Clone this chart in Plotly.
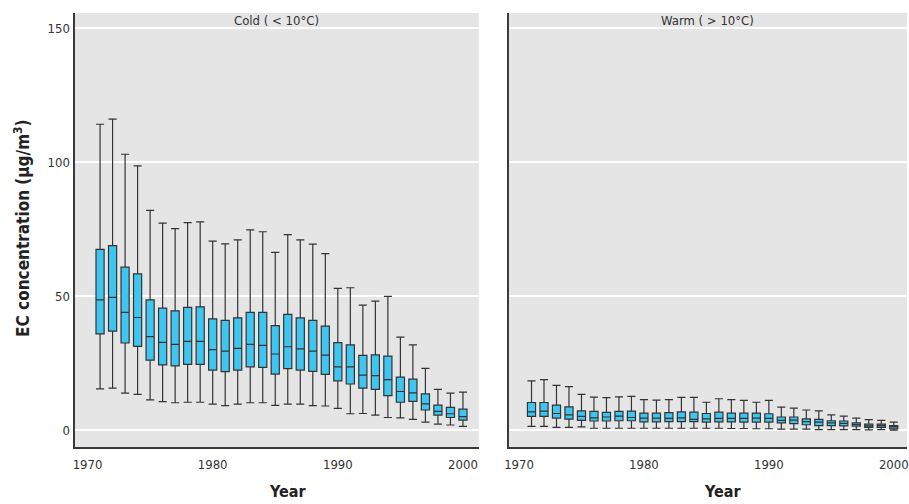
import plotly.graph_objects as go

years = list(range(1971, 2001))

cold_upper = [114.1, 116.0, 102.9, 98.6, 82.0, 77.2, 75.2, 77.4, 77.7, 70.5,
              69.5, 71.0, 74.7, 74.0, 66.3, 72.9, 71.0, 69.4, 65.8, 52.9,
              53.1, 46.6, 48.1, 49.9, 34.7, 31.8, 23.0, 15.2, 13.8, 14.2]
cold_q3 = [67.4, 68.8, 60.8, 58.3, 48.6, 45.5, 44.5, 45.8, 46.0, 41.5,
           40.9, 41.9, 43.9, 43.9, 39.0, 43.2, 41.9, 40.9, 38.8, 32.6,
           31.8, 27.9, 28.1, 27.6, 19.8, 19.0, 13.5, 9.3, 8.5, 7.8]
cold_median = [48.6, 49.5, 43.9, 42.0, 34.9, 32.7, 32.0, 33.1, 33.1, 30.0,
               29.5, 30.5, 32.0, 31.6, 28.4, 31.1, 30.3, 29.5, 28.0, 23.6,
               23.6, 20.5, 20.3, 18.8, 14.4, 13.9, 9.8, 7.0, 6.1, 5.0]
cold_q1 = [35.9, 36.9, 32.5, 31.2, 26.1, 24.3, 24.0, 24.5, 24.5, 22.4,
           21.8, 22.4, 23.6, 23.4, 20.9, 22.9, 22.4, 21.9, 20.8, 18.4,
           17.2, 15.7, 15.2, 12.9, 10.4, 10.7, 7.5, 5.6, 4.7, 3.7]
cold_lower = [15.4, 15.7, 13.8, 13.3, 11.3, 10.6, 10.2, 10.4, 10.4, 9.7,
              9.1, 9.7, 10.2, 10.2, 9.2, 9.7, 9.7, 9.1, 9.0, 8.1,
              6.1, 6.2, 5.6, 4.7, 4.6, 4.0, 3.0, 2.2, 1.9, 1.4]

warm_upper = [18.4, 18.8, 16.7, 16.2, 13.3, 12.3, 12.1, 12.4, 12.6, 11.4,
              11.2, 11.4, 12.2, 12.2, 10.4, 11.7, 11.4, 11.1, 10.4, 11.1,
              8.6, 8.2, 7.5, 7.2, 5.7, 5.2, 4.5, 3.9, 3.6, 3.0]
warm_q3 = [10.3, 10.3, 9.3, 8.7, 7.2, 7.0, 6.6, 7.0, 7.1, 6.3,
           6.3, 6.5, 6.8, 6.7, 6.2, 6.7, 6.3, 6.3, 6.3, 6.1,
           4.9, 4.9, 4.2, 4.0, 3.5, 3.4, 2.7, 2.2, 2.2, 1.7]
warm_median = [6.8, 7.1, 6.2, 5.7, 5.1, 4.6, 4.9, 5.2, 4.7, 4.5,
               4.5, 4.4, 4.6, 4.0, 4.2, 4.4, 4.4, 4.4, 4.5, 4.4,
               3.6, 3.7, 3.2, 3.0, 2.7, 2.5, 2.1, 1.6, 1.7, 1.2]
warm_q1 = [5.1, 5.1, 4.5, 4.1, 3.6, 3.4, 3.4, 3.5, 3.5, 3.1,
           3.1, 3.2, 3.2, 3.2, 3.0, 3.1, 3.1, 3.0, 3.0, 3.0,
           2.7, 2.4, 2.0, 1.7, 1.7, 1.6, 1.5, 1.0, 1.0, 0.5]
warm_lower = [1.4, 1.4, 1.0, 1.0, 1.2, 0.7, 0.7, 0.7, 0.7, 0.7,
              0.7, 0.7, 0.7, 0.7, 0.7, 0.7, 0.6, 0.6, 0.5, 0.5,
              0.4, 0.4, 0.4, 0.2, 0.2, 0.2, 0.2, 0.1, 0.2, 0.0]

panel_titles = ["Cold ( < 10°C)", "Warm ( > 10°C)"]
x_tick_vals = [1970, 1980, 1990, 2000]
y_tick_vals = [0, 50, 100, 150]

FONT = "DejaVu Sans Condensed, Liberation Sans Narrow, Roboto Condensed, Arial Narrow, sans-serif"
FILL = "#3FC6F0"
LINE = "#333333"
AXIS = "#3a3a3a"
BG = "#E5E5E6"

fig = go.Figure()

for i, (up, q3, med, q1, lo) in enumerate([
        (cold_upper, cold_q3, cold_median, cold_q1, cold_lower),
        (warm_upper, warm_q3, warm_median, warm_q1, warm_lower)]):
    fig.add_trace(go.Box(
        x=years, q1=q1, median=med, q3=q3, lowerfence=lo, upperfence=up,
        fillcolor=FILL, line=dict(color=LINE, width=1.2),
        width=0.65, whiskerwidth=1, boxpoints=False, showlegend=False,
        hoverinfo="skip",
        xaxis="x" if i == 0 else "x2", yaxis="y" if i == 0 else "y2",
    ))

W, H = 909, 504
top_px, bot_px = 13, 447
ydom = [(H - bot_px) / H, (H - top_px) / H]

xcommon = dict(tickvals=x_tick_vals, showgrid=False, zeroline=False,
               showline=True, linecolor=AXIS, linewidth=2, ticks="",
               ticklabelstandoff=4, ticklabeloverflow="allow",
               tickfont=dict(family=FONT, size=13, color="#333333"))
ycommon = dict(range=[-6.3, 155.6], tickvals=y_tick_vals, showgrid=True,
               gridcolor="white", gridwidth=1.5, zeroline=False,
               showline=True, linecolor=AXIS, linewidth=2, ticks="",
               tickfont=dict(family=FONT, size=13, color="#333333"))

fig.update_layout(
    width=W, height=H,
    margin=dict(l=0, r=0, t=0, b=0),
    paper_bgcolor="white", plot_bgcolor=BG,
    xaxis=dict(domain=[71 / W, 478 / W], range=[1968.96, 2001.27], anchor="y", **xcommon),
    xaxis2=dict(domain=[508 / W, 1.0], range=[1969.17, 2001.06], anchor="y2", **xcommon),
    yaxis=dict(domain=ydom, anchor="x", **ycommon),
    yaxis2=dict(domain=ydom, anchor="x2", matches="y", showticklabels=False,
                **{k: v for k, v in ycommon.items() if k not in ("range",)}),
    showlegend=False,
)

def ann(text, xpx, ypx, size, color, angle=0):
    return dict(text=text, x=xpx / W, y=(H - ypx) / H, xref="paper", yref="paper",
                xanchor="center", yanchor="middle", showarrow=False, textangle=angle,
                font=dict(family=FONT, size=size, color=color))

annotations = [
    ann(panel_titles[0], (71 + 478) / 2, 21, 13, "#333333"),
    ann(panel_titles[1], (508 + 909) / 2, 21, 13, "#333333"),
    ann("<b>Year</b>", 285, 491, 16, "#222222"),
    ann("<b>Year</b>", 723, 491, 16, "#222222"),
    ann("<b>EC concentration (µg/m<sup>3</sup>)</b>", 18, 228, 17, "#222222", -90),
]
fig.update_layout(annotations=annotations)

fig.write_html("out.html", config={"displayModeBar": False},
               post_script="document.body.style.margin='0px';document.body.style.overflow='hidden';")
